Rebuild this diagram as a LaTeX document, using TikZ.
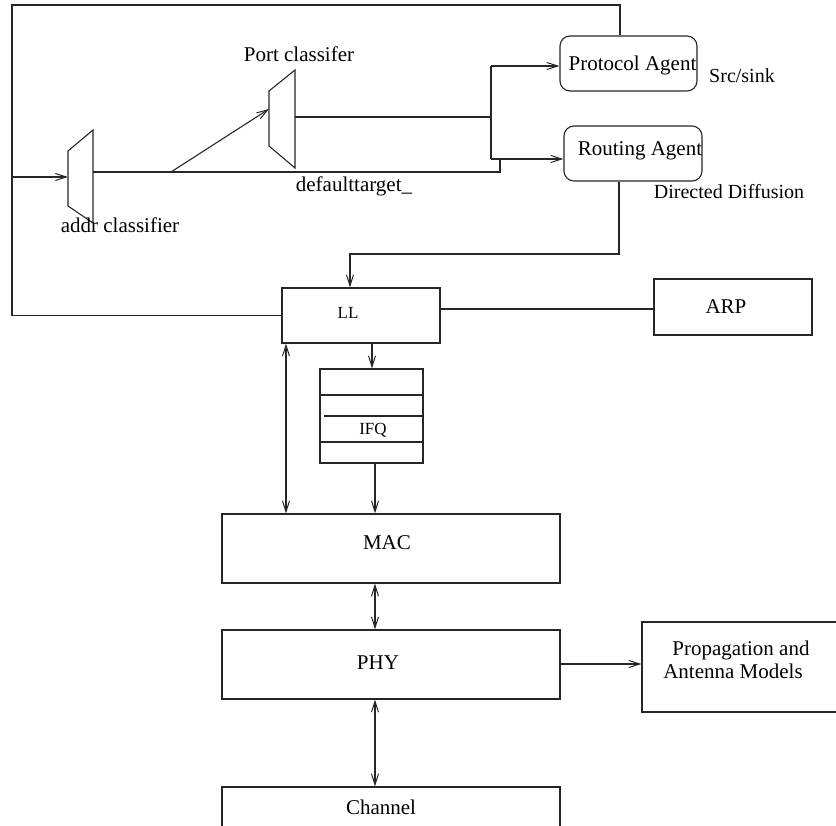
\documentclass[tikz,border=0pt]{standalone}
\usepackage{fontspec}
\setmainfont{Liberation Serif}
\usetikzlibrary{arrows.meta}
\begin{document}
\begin{tikzpicture}[x=1pt,y=-1pt,
  line width=1.1pt,
  >={Straight Barb[length=11pt,width=7pt,line width=1pt]},
  box/.style={draw, rectangle, inner sep=0pt, line width=1.1pt},
  agent/.style={box, rounded corners=10pt},
  lbl/.style={font=\fontsize{21}{24}\selectfont, inner sep=0pt, anchor=base, text=black},
  note/.style={font=\fontsize{20}{23}\selectfont, inner sep=0pt, anchor=base, text=black},
  small/.style={font=\fontsize{17}{20}\selectfont, inner sep=0pt, anchor=base, text=black}]
\useasboundingbox (0,0) rectangle (836,826);
\clip (0,0) rectangle (836,826);

\begin{scope}[color=black!85]
% ---- boxes ----
\node[agent, minimum width=137pt, minimum height=55pt] (pa) at (628.5,63.5) {};
\node[agent, minimum width=138pt, minimum height=55pt] (ra) at (633,153.5) {};
\node[box, minimum width=158pt, minimum height=55pt] (ll) at (361,315.5) {};
\node[box, minimum width=158pt, minimum height=56pt] (arp) at (733,307) {};
\node[box, minimum width=103pt, minimum height=94pt] (ifq) at (371.5,416) {};
\node[box, minimum width=338pt, minimum height=69pt] (mac) at (391,548.5) {};
\node[box, minimum width=338pt, minimum height=69pt] (phy) at (391,664.5) {};
\node[box, minimum width=338pt, minimum height=60pt] (chan) at (391,817) {};
\node[box, minimum width=210pt, minimum height=90pt] (prop) at (747,667) {};

% queue slots
\draw (ifq.west |- 0,395) -- (ifq.east |- 0,395);
\draw (324,416) -- (ifq.east |- 0,416);
\draw (ifq.west |- 0,442) -- (ifq.east |- 0,442);

% ---- classifiers ----
\draw (68,151) -- (93,130) -- (93,223) -- (68,206) -- cycle;
\draw (269,91) -- (295,70) -- (295,168) -- (269,146) -- cycle;

% ---- junction points ----
\coordinate (cTL) at (12,5);
\coordinate (cTR) at (620,5);
\coordinate (inA) at (12,177);
\coordinate (addrIn) at (68,177);
\coordinate (addrOut) at (93,172);
\coordinate (fork) at (171,172);
\coordinate (portIn) at (269,109);
\coordinate (portOut) at (295,117);
\coordinate (dtCorner) at (500,172);
\coordinate (dtJoin) at (500,159);
\coordinate (busTop) at (491,66);
\coordinate (busMid) at (491,117);
\coordinate (busBot) at (491,159);
\coordinate (raDown) at (619,254);
\coordinate (llDown) at (350,254);

% ---- connectors ----
% packets leaving the link layer loop back into the node entry
\draw (ll.west) -| (cTL) -- (cTR) -- (cTR |- pa.north);
\draw[->] (inA) -- (addrIn);
\draw (addrOut) -- (dtCorner) -- (dtJoin);
\draw[->] (fork) -- (portIn);
\draw (portOut) -- (busMid);
\draw (busTop) -- (busBot);
\draw[->] (busTop) -- (busTop -| pa.west);
\draw[->] (busBot) -- (busBot -| ra.west);
% routing agent down to the link layer
\draw[->] (raDown |- ra.south) -- (raDown) -- (llDown) -- (llDown |- ll.north);
\draw (ll.east |- 0,309) -- (arp.west |- 0,309);
\draw[->] (ll.south -| 372,0) -- (ifq.north -| 372,0);
\draw[->] (ifq.south -| 375,0) -- (mac.north -| 375,0);
\draw[<->] (ll.south -| 286,0) -- (mac.north -| 286,0);
\draw[<->] (mac.south -| 375,0) -- (phy.north -| 375,0);
\draw[->] (phy.east |- 0,664) -- (prop.west |- 0,664);
\draw[<->] (phy.south -| 375,0) -- (chan.north -| 375,0);
\end{scope}

% ---- labels ----
\node[lbl] (tpa) at (632.5,70.7) {Protocol Agent};
\node[note] (tsrc) at (742,82.7) {Src/sink};
\node[lbl] (tra) at (640,156) {Routing Agent};
\node[note] (tdd) at (729,199) {Directed Diffusion};
\node[lbl] (tport) at (299,62) {Port classifer};
\node[lbl] (taddr) at (120,233) {addr classifier};
\node[lbl] (tdt) at (354,192) {defaulttarget\_};
\node[small] (tll) at (348,319) {LL};
\node[lbl] (tarp) at (726,314) {ARP};
\node[small] (tifq) at (373,435) {IFQ};
\node[lbl] (tmac) at (387,549.3) {MAC};
\node[lbl] (tphy) at (378,669) {PHY};
\node[lbl] (tchan) at (381,814) {Channel};
\node[lbl] (tprop1) at (741,655.7) {Propagation and};
\node[lbl] (tprop2) at (733,678.3) {Antenna Models};
\end{tikzpicture}
\end{document}
